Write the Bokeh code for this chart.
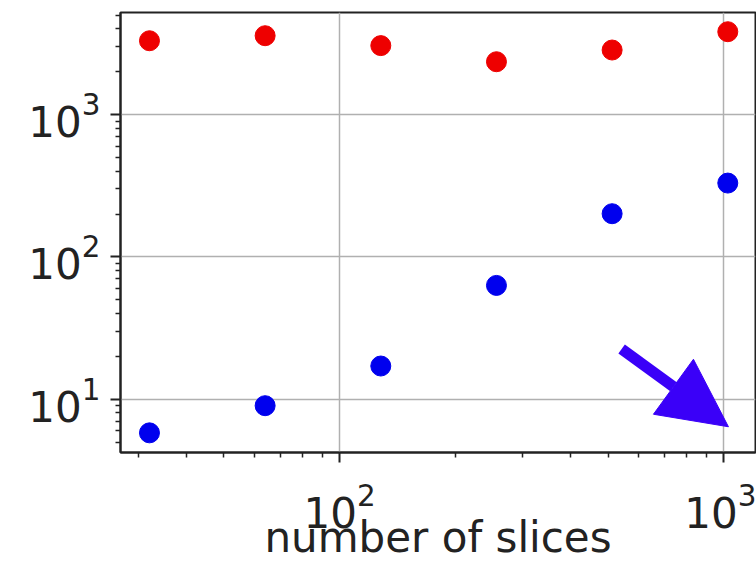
from bokeh.plotting import figure
from bokeh.models import Arrow, NormalHead, FixedTicker
from bokeh.embed import file_html
from bokeh.resources import INLINE

# number of slices on the x axis
slices = [32, 64, 128, 256, 512, 1024]
# upper series (red) and lower series (blue)
red_values = [3300, 3580, 3050, 2350, 2840, 3820]
blue_values = [5.8, 9.0, 17.1, 63, 201, 330]

# decade ticks
x_major = [100, 1000]
y_major = [10, 100, 1000]

# arrow annotation (data coordinates)
arrow_start = (542, 22.5)
arrow_end = (1028, 6.4)

x_label = "number of slices"

x_minor = [m * 10 ** k for k in (1, 2) for m in range(2, 10)]
y_minor = [m * 10 ** k for k in (0, 1, 2, 3) for m in range(2, 10)]

FONT = "DejaVu Sans"
INK = "#222222"

p = figure(
    width=756, height=564,
    x_axis_type="log", y_axis_type="log",
    x_range=(26.9, 1209), y_range=(4.22, 5212),
    output_backend="svg", toolbar_location=None,
    min_border_left=120, min_border_right=1,
    min_border_top=12, min_border_bottom=111,
    background_fill_color="white", border_fill_color="white",
)

p.xaxis.ticker = FixedTicker(ticks=x_major, minor_ticks=x_minor)
p.yaxis.ticker = FixedTicker(ticks=y_major, minor_ticks=y_minor)
p.xaxis.axis_label = x_label

for ax in (p.xaxis[0], p.yaxis[0]):
    ax.axis_line_color = INK
    ax.axis_line_width = 2
    ax.major_tick_line_color = INK
    ax.major_tick_line_width = 2
    ax.minor_tick_line_color = INK
    ax.minor_tick_line_width = 1.5
    ax.major_tick_in = 0
    ax.major_tick_out = 10
    ax.minor_tick_in = 0
    ax.minor_tick_out = 5
    ax.major_label_text_font = FONT
    ax.major_label_text_font_size = "42px"
    ax.major_label_text_color = INK
    ax.axis_label_text_font = FONT
    ax.axis_label_text_font_size = "42px"
    ax.axis_label_text_font_style = "normal"
    ax.axis_label_text_color = INK

# tick labels sit a little lower; the title tucks up under them
p.xaxis.major_label_standoff = 20
p.xaxis.axis_label_standoff = -18
p.yaxis.major_label_standoff = 10

p.grid.grid_line_color = "#b0b0b0"
p.grid.grid_line_width = 1.5
p.outline_line_color = INK
p.outline_line_width = 2

p.scatter(slices, red_values, size=20, fill_color="#ee0000", line_color="#ee0000")
p.scatter(slices, blue_values, size=20, fill_color="#0000ee", line_color="#0000ee")

ARROW_COLOR = "#3a00f8"
p.add_layout(Arrow(
    end=NormalHead(size=68, fill_color=ARROW_COLOR, line_color=ARROW_COLOR),
    x_start=arrow_start[0], y_start=arrow_start[1],
    x_end=arrow_end[0], y_end=arrow_end[1],
    line_color=ARROW_COLOR, line_width=11,
))

open("out.html", "w").write(file_html(p, INLINE))
